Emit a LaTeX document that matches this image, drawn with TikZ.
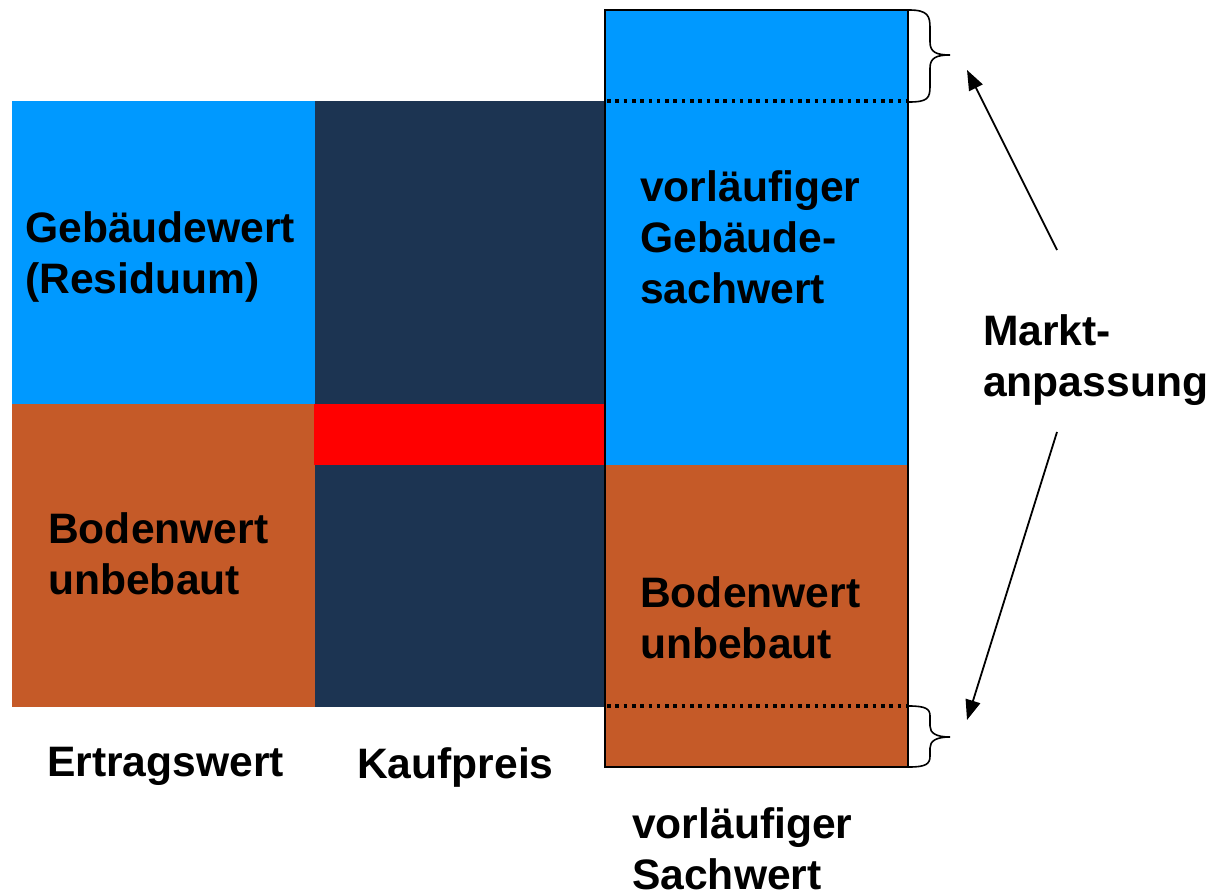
\documentclass[tikz,border=0pt]{standalone}
\usepackage{fontspec}
\setmainfont{Liberation Sans}
\usetikzlibrary{arrows.meta}
\definecolor{hblue}{HTML}{0099FF}
\definecolor{navy}{HTML}{1C3452}
\definecolor{brown}{HTML}{C55A28}
\definecolor{hred}{HTML}{FF0000}
\tikzset{
  box/.style={anchor=north west, inner sep=0pt, outer sep=0pt, draw=none},
  lbl/.style={anchor=north west, inner sep=0pt, align=left, font=\fontsize{42.6}{51}\selectfont\bfseries},
  dotline/.style={line width=3.6pt, dash pattern=on 3.6pt off 4.7pt},
  brc/.style={line width=1.6pt},
  arr/.style={line width=1.8pt, -{Triangle[length=20pt,width=15pt]}}
}
\begin{document}
\begin{tikzpicture}[x=1pt,y=-1pt]
\useasboundingbox (0,0) rectangle (1209,893);
% left column
\node[box, fill=hblue, minimum width=303pt, minimum height=303pt] (lb) at (12,101) {};
\node[box, fill=brown, minimum width=303pt, minimum height=303pt] (lr) at (12,404) {};
% middle column
\node[box, fill=navy, minimum width=290pt, minimum height=606pt] (mk) at (315,101) {};
\node[box, fill=hred, minimum width=290pt, minimum height=61pt] (mr) at (314,404) {};
% right column
\node[box, fill=hblue, minimum width=303pt, minimum height=455pt] (rb) at (605,10) {};
\node[box, fill=brown, minimum width=303pt, minimum height=302pt] (rr) at (605,465) {};
\draw[line width=2pt] (rb.north west) rectangle (rr.south east);
\coordinate (d1a) at (607,101); \coordinate (d1b) at (907,101);
\coordinate (d2a) at (607,706); \coordinate (d2b) at (907,706);
\draw[dotline] (d1a) -- (d1b);
\draw[dotline] (d2a) -- (d2b);
% braces
\coordinate (t1) at (950,55);
\coordinate (t2) at (950,737);
\draw[brc] (909,10) .. controls (928,10) and (930,16) .. (930,28) -- (930,42)
  .. controls (930,52) and (936,55) .. (t1)
  .. controls (936,55) and (930,58) .. (930,68) -- (930,86)
  .. controls (930,98) and (928,102) .. (909,102);
\draw[brc] (909,706) .. controls (926,706) and (930,709) .. (930,716) -- (930,726)
  .. controls (930,733) and (936,737) .. (t2)
  .. controls (936,737) and (930,741) .. (930,748) -- (930,756)
  .. controls (930,764) and (926,767) .. (909,767);
% texts
\node[lbl] (gw) at (25,211) {Gebäudewert\\(Residuum)};
\node[lbl] (bw1) at (48,512) {Bodenwert\\unbebaut};
\node[lbl] (vg) at (640,170) {vorläufiger\\Gebäude-\\sachwert};
\node[lbl] (bw2) at (640,576) {Bodenwert\\unbebaut};
\node[lbl] (ma) at (983,314) {Markt-\\anpassung};
\node[lbl] (ew) at (47,747) {Ertragswert};
\node[lbl] (kp) at (357,747) {Kaufpreis};
\node[lbl] (vs) at (632,807) {vorläufiger\\Sachwert};
% arrows
\coordinate (a1) at (1057,250);
\coordinate (a2) at (1057,432);
\coordinate (e1) at (967,70);
\coordinate (e2) at (967,720);
\draw[arr] (a1) -- (e1);
\draw[arr] (a2) -- (e2);
\end{tikzpicture}
\end{document}
